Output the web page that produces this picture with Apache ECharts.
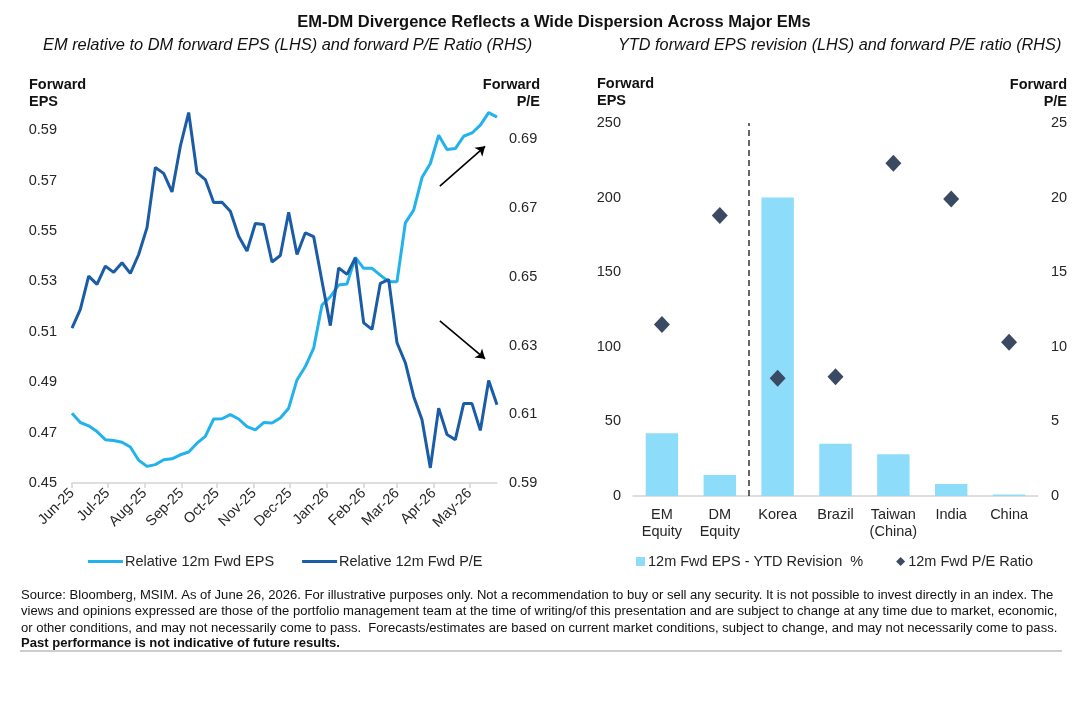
<!DOCTYPE html>
<html>
<head>
<meta charset="utf-8">
<script src="https://cdn.jsdelivr.net/npm/echarts@6/dist/echarts.min.js"></script>
<style>
html,body{margin:0;padding:0;background:#fff;}
#chart{width:1080px;height:703px;}
</style>
</head>
<body>
<div id="chart"></div>
<script>
// ---------- DATA ----------
const weekDates = [
  '2025-06-01','2025-06-08','2025-06-15','2025-06-22','2025-06-29',
  '2025-07-06','2025-07-13','2025-07-20','2025-07-27',
  '2025-08-03','2025-08-10','2025-08-17','2025-08-24','2025-08-31',
  '2025-09-07','2025-09-14','2025-09-21','2025-09-28',
  '2025-10-05','2025-10-12','2025-10-19','2025-10-26',
  '2025-11-02','2025-11-09','2025-11-16','2025-11-23','2025-11-30',
  '2025-12-07','2025-12-14','2025-12-21','2025-12-28',
  '2026-01-04','2026-01-11','2026-01-18','2026-01-25',
  '2026-02-01','2026-02-08','2026-02-15','2026-02-22',
  '2026-03-01','2026-03-08','2026-03-15','2026-03-22','2026-03-29',
  '2026-04-05','2026-04-12','2026-04-19','2026-04-26',
  '2026-05-03','2026-05-10','2026-05-17','2026-05-24'
];
const relFwdEPS = [
  0.4777,0.4740,0.4727,0.4704,0.4672,0.4669,0.4662,0.4643,0.4590,0.4566,
  0.4573,0.4592,0.4596,0.4612,0.4623,0.4658,0.4685,0.4754,0.4755,0.4771,
  0.4754,0.4724,0.4711,0.4740,0.4738,0.4758,0.4797,
  0.4909,0.4962,0.5035,0.5206,0.5239,0.5286,0.5290,0.5395,0.5352,0.5352,
  0.5325,0.5299,0.5299,0.5532,0.5583,0.5712,0.5768,0.5880,0.5823,0.5827,
  0.5876,0.5889,0.5920,0.5970,0.5952
];
const relFwdPE = [
  0.6351,0.6405,0.6502,0.6478,0.6531,0.6513,0.6541,0.6510,0.6565,0.6643,
  0.6818,0.6801,0.6747,0.6880,0.6978,0.6803,0.6783,0.6716,0.6717,0.6691,
  0.6618,0.6575,0.6655,0.6652,0.6543,0.6562,0.6688,
  0.6565,0.6628,0.6617,0.6487,0.6358,0.6526,0.6507,0.6555,0.6366,0.6347,
  0.6481,0.6492,0.6308,0.6250,0.6152,0.6084,0.5944,0.6118,0.6041,0.6026,
  0.6131,0.6131,0.6053,0.6198,0.6128
];
const arrowUp = [['2026-04-06', 0.5678], ['2026-05-14', 0.5836]];
const arrowDown = [['2026-04-06', 0.5143], ['2026-05-14', 0.4993]];

const markets = ['EM\nEquity','DM\nEquity','Korea','Brazil','Taiwan\n(China)','India','China'];
const epsRevision = [42, 14, 200, 35, 28, 8, 1];
const fwdPERatio = [11.5, 18.8, 7.9, 8.0, 22.3, 19.9, 10.3];
const dividerPos = [2];

const monthNames = ['Jan','Feb','Mar','Apr','May','Jun','Jul','Aug','Sep','Oct','Nov','Dec'];

// ---------- STYLE ----------
const FONT = 'Liberation Sans, Arial, sans-serif';
const TXT = '#262626';
const LIGHT = '#22b2ec';
const DARK = '#1b5ca6';
const BARC = '#8ddcfa';
const DIAM = '#3b4a63';
const AXC = '#d4d4d4';

const chart = echarts.init(document.getElementById('chart'), null, {renderer: 'canvas'});

function ts(s){ const p = s.split('-').map(Number); return new Date(p[0], p[1]-1, p[2]).getTime(); }
function oddHundredth(v){ const k = Math.round(v*100); return (k % 2 === 1) ? (k/100).toFixed(2) : ''; }

const lbl = {fontFamily: FONT, fontSize: 14.5, color: TXT};

function gtext(x, y, text, opt){
  return Object.assign({type: 'text', x: x, y: y, silent: true,
    style: Object.assign({text: text, fontFamily: FONT, fontSize: 14.5, fill: TXT, align: 'left', verticalAlign: 'middle'}, opt || {})});
}

const footer = [
  'Source: Bloomberg, MSIM. As of June 26, 2026. For illustrative purposes only. Not a recommendation to buy or sell any security. It is not possible to invest directly in an index. The',
  'views and opinions expressed are those of the portfolio management team at the time of writing/of this presentation and are subject to change at any time due to market, economic,',
  'or other conditions, and may not necessarily come to pass.  Forecasts/estimates are based on current market conditions, subject to change, and may not necessarily come to pass.',
  'Past performance is not indicative of future results.'
];

const option = {
  backgroundColor: '#fff',
  animation: false,
  textStyle: {fontFamily: FONT},
  grid: [
    {left: 72, right: 583, top: 105, bottom: 220, containLabel: false},
    {left: 633, right: 42, top: 123, bottom: 207, containLabel: false}
  ],
  xAxis: [
    {
      type: 'time', gridIndex: 0,
      min: ts(weekDates[0]), max: ts(weekDates[weekDates.length-1]),
      splitNumber: 12,
      axisLine: {lineStyle: {color: AXC, width: 1.5}},
      axisTick: {show: true, length: 5, lineStyle: {color: AXC, width: 1.5}},
      splitLine: {show: false},
      axisLabel: Object.assign({}, lbl, {
        rotate: 45, margin: 8, showMaxLabel: false, hideOverlap: false,
        formatter: function(val){
          const d = new Date(val);
          if (d.getDate() !== 1) return '';
          return monthNames[d.getMonth()] + '-' + String(d.getFullYear()).slice(2);
        }
      })
    },
    {
      type: 'category', gridIndex: 1, data: markets,
      axisLine: {lineStyle: {color: AXC, width: 1.5}},
      axisTick: {show: false},
      axisLabel: Object.assign({}, lbl, {margin: 10, interval: 0, lineHeight: 17})
    },
    {
      type: 'value', gridIndex: 1, min: 0, max: 7, show: false
    }
  ],
  yAxis: [
    {
      type: 'value', gridIndex: 0, position: 'left', min: 0.45, max: 0.60, interval: 0.01,
      axisLine: {show: false}, axisTick: {show: false}, splitLine: {show: false},
      axisLabel: Object.assign({}, lbl, {margin: 15, formatter: oddHundredth})
    },
    {
      type: 'value', gridIndex: 0, position: 'right', min: 0.59, max: 0.70, interval: 0.01,
      axisLine: {show: false}, axisTick: {show: false}, splitLine: {show: false},
      axisLabel: Object.assign({}, lbl, {margin: 12, formatter: oddHundredth})
    },
    {
      type: 'value', gridIndex: 1, position: 'left', min: 0, max: 250, interval: 50,
      axisLine: {show: false}, axisTick: {show: false}, splitLine: {show: false},
      axisLabel: Object.assign({}, lbl, {margin: 12})
    },
    {
      type: 'value', gridIndex: 1, position: 'right', min: 0, max: 25, interval: 5,
      axisLine: {show: false}, axisTick: {show: false}, splitLine: {show: false},
      axisLabel: Object.assign({}, lbl, {margin: 13})
    }
  ],
  legend: [
    {
      left: 88, top: 554, padding: 0, itemWidth: 35, itemHeight: 3, itemGap: 28, icon: 'rect',
      textStyle: Object.assign({}, lbl, {padding: [0, 0, 0, -3]}),
      data: ['Relative 12m Fwd EPS', 'Relative 12m Fwd P/E']
    },
    {
      left: 636, top: 554, padding: 0, itemWidth: 9, itemHeight: 9, itemGap: 33,
      textStyle: Object.assign({}, lbl, {padding: [0, 0, 0, -2]}),
      data: [{name: '12m Fwd EPS - YTD Revision  %', icon: 'rect'}, {name: '12m Fwd P/E Ratio', icon: 'diamond'}]
    }
  ],
  series: [
    {
      name: 'Relative 12m Fwd EPS', type: 'line', xAxisIndex: 0, yAxisIndex: 0,
      data: weekDates.map((d, i) => [ts(d), relFwdEPS[i]]),
      showSymbol: false, symbol: 'none', color: LIGHT,
      lineStyle: {color: LIGHT, width: 3},
      markLine: {
        silent: true, symbol: ['none', 'arrow'], symbolSize: 9, animation: false,
        label: {show: false},
        lineStyle: {color: '#000', width: 1.6, type: 'solid'},
        data: [
          [{coord: [ts(arrowUp[0][0]), arrowUp[0][1]]}, {coord: [ts(arrowUp[1][0]), arrowUp[1][1]]}],
          [{coord: [ts(arrowDown[0][0]), arrowDown[0][1]]}, {coord: [ts(arrowDown[1][0]), arrowDown[1][1]]}]
        ]
      }
    },
    {
      name: 'Relative 12m Fwd P/E', type: 'line', xAxisIndex: 0, yAxisIndex: 1,
      data: weekDates.map((d, i) => [ts(d), relFwdPE[i]]),
      showSymbol: false, symbol: 'none', color: DARK,
      lineStyle: {color: DARK, width: 3}
    },
    {
      name: '12m Fwd EPS - YTD Revision  %', type: 'bar', xAxisIndex: 1, yAxisIndex: 2,
      data: epsRevision, barWidth: '56%', color: BARC,
      itemStyle: {color: BARC}
    },
    {
      name: '12m Fwd P/E Ratio', type: 'scatter', xAxisIndex: 1, yAxisIndex: 3,
      data: fwdPERatio, symbol: 'diamond', symbolSize: [16, 17], color: DIAM,
      itemStyle: {color: DIAM, opacity: 1}
    },
    {
      name: 'divider', type: 'line', xAxisIndex: 2, yAxisIndex: 2, data: [],
      markLine: {
        silent: true, symbol: ['none', 'none'], animation: false,
        label: {show: false},
        lineStyle: {color: '#333', width: 1.5, type: [6, 4]},
        data: dividerPos.map(v => ({xAxis: v}))
      }
    }
  ],
  graphic: [
    gtext(554, 22, 'EM-DM Divergence Reflects a Wide Dispersion Across Major EMs', {fontWeight: 'bold', fontSize: 16.5, align: 'center', fill: '#111'}),
    gtext(43, 45, 'EM relative to DM forward EPS (LHS) and forward P/E Ratio (RHS)', {fontStyle: 'italic', fontSize: 16.4, fill: '#111'}),
    gtext(618, 45, 'YTD forward EPS revision (LHS) and forward P/E ratio (RHS)', {fontStyle: 'italic', fontSize: 16.3, fill: '#111'}),
    gtext(29, 85, 'Forward', {fontWeight: 'bold', fill: '#111'}),
    gtext(29, 102, 'EPS', {fontWeight: 'bold', fill: '#111'}),
    gtext(540, 85, 'Forward', {fontWeight: 'bold', fill: '#111', align: 'right'}),
    gtext(540, 102, 'P/E', {fontWeight: 'bold', fill: '#111', align: 'right'}),
    gtext(597, 84, 'Forward', {fontWeight: 'bold', fill: '#111'}),
    gtext(597, 101, 'EPS', {fontWeight: 'bold', fill: '#111'}),
    gtext(1067, 85, 'Forward', {fontWeight: 'bold', fill: '#111', align: 'right'}),
    gtext(1067, 102, 'P/E', {fontWeight: 'bold', fill: '#111', align: 'right'}),
    gtext(21, 595, footer[0], {fontSize: 13.05, fill: '#111'}),
    gtext(21, 611.5, footer[1], {fontSize: 13.05, fill: '#111'}),
    gtext(21, 628, footer[2], {fontSize: 13.05, fill: '#111'}),
    gtext(21, 643, footer[3], {fontSize: 13.05, fill: '#111', fontWeight: 'bold'}),
    {type: 'line', silent: true, shape: {x1: 20, y1: 651, x2: 1062, y2: 651}, style: {stroke: '#bdbdbd', lineWidth: 1.5}}
  ]
};
chart.setOption(option);
</script>
</body>
</html>
